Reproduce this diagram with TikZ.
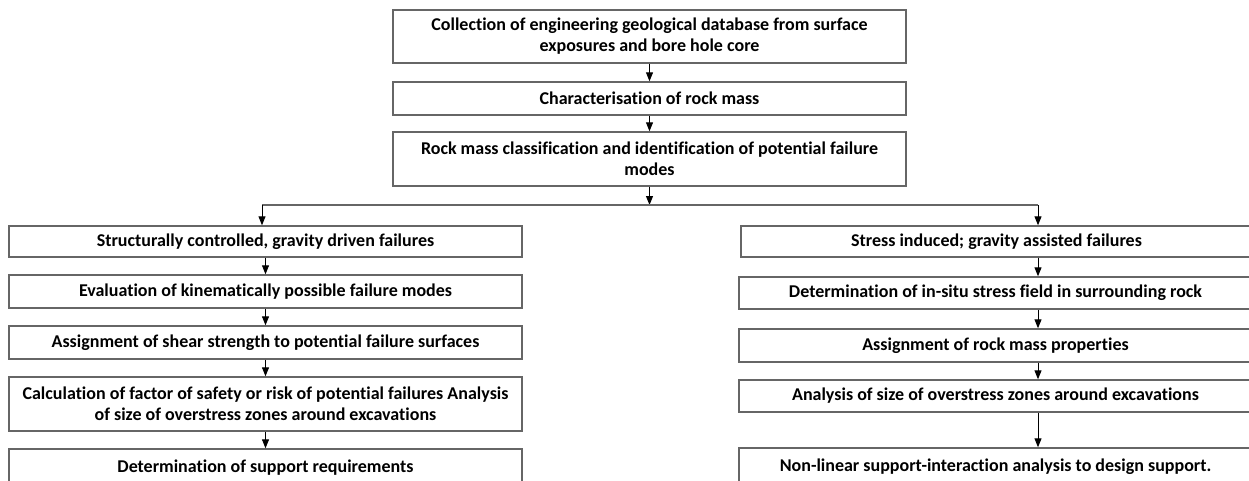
\documentclass[tikz,border=0pt]{standalone}
\usepackage{fontspec}
\setmainfont[Ligatures=NoCommon]{Carlito}
\usetikzlibrary{arrows.meta}

\tikzset{
  stepbox/.style={draw=black!60, line width=1.4pt, fill=white, align=center, inner sep=0pt,
    font=\fontsize{18}{21}\selectfont\bfseries},
  widebox/.style={stepbox, minimum width=513pt},
  flow/.style={-{Triangle[length=9pt,width=7pt]}, line width=1pt},
}

\begin{document}
\begin{tikzpicture}[x=1pt,y=-1pt]

\useasboundingbox (0,0) rectangle (1249,481);
\clip (0,0) rectangle (1249,481);

% top column
\node[widebox, minimum height=53pt] (collect) at (649.5,36.5) {Collection of engineering geological database from surface\\exposures and bore hole core};
\node[widebox, minimum height=33pt] (charact) at (649.5,98.5) {Characterisation of rock mass};
\node[widebox, minimum height=54pt] (classify) at (649.5,159) {Rock mass classification and identification of potential failure\\modes};

% left column
\node[widebox, minimum height=31pt] (struct) at (265.5,241.5) {Structurally controlled, gravity driven failures};
\node[widebox, minimum height=33pt] (kinem) at (265.5,291.5) {Evaluation of kinematically possible failure modes};
\node[widebox, minimum height=33pt] (shear) at (265.5,342.5) {Assignment of shear strength to potential failure surfaces};
\node[widebox, minimum height=54pt] (safety) at (265.5,404) {Calculation of factor of safety or risk of potential failures Analysis\\of size of overstress zones around excavations};
\node[widebox, minimum height=38pt] (suppreq) at (265.5,468) {Determination of support requirements};

% right column
\node[stepbox, minimum width=511pt, minimum height=31pt] (stress) at (996.5,241.5) {Stress induced; gravity assisted failures};
\node[stepbox, minimum width=513pt, minimum height=32pt] (insitu) at (995.5,293) {Determination of in-situ stress field in surrounding rock};
\node[stepbox, minimum width=513pt, minimum height=33pt] (props) at (995.5,345.5) {Assignment of rock mass properties};
\node[stepbox, minimum width=513pt, minimum height=32pt] (overst) at (995.5,396) {Analysis of size of overstress zones around excavations};
\node[stepbox, minimum width=513pt, minimum height=38pt] (nonlin) at (995.5,467) {Non-linear support-interaction analysis to design support.};

\coordinate (split) at (649.5,205);
\coordinate (lsplit) at (262,205);
\coordinate (rsplit) at (1038,205);

\draw[flow] (collect) -- (charact);
\draw[flow] (charact) -- (classify);
\draw[flow] (classify) -- (split);

\draw[draw=black!60, line width=1.4pt] (lsplit) -- (rsplit);
\draw[flow] (lsplit) -- (lsplit |- struct.north);
\draw[flow] (rsplit) -- (rsplit |- stress.north);

\draw[flow] (struct) -- (kinem);
\draw[flow] (kinem) -- (shear);
\draw[flow] (shear) -- (safety);
\draw[flow] (safety) -- (suppreq);

\draw[flow] (rsplit |- stress.south) -- (rsplit |- insitu.north);
\draw[flow] (rsplit |- insitu.south) -- (rsplit |- props.north);
\draw[flow] (rsplit |- props.south) -- (rsplit |- overst.north);
\draw[flow] (rsplit |- overst.south) -- (rsplit |- nonlin.north);

\end{tikzpicture}
\end{document}
